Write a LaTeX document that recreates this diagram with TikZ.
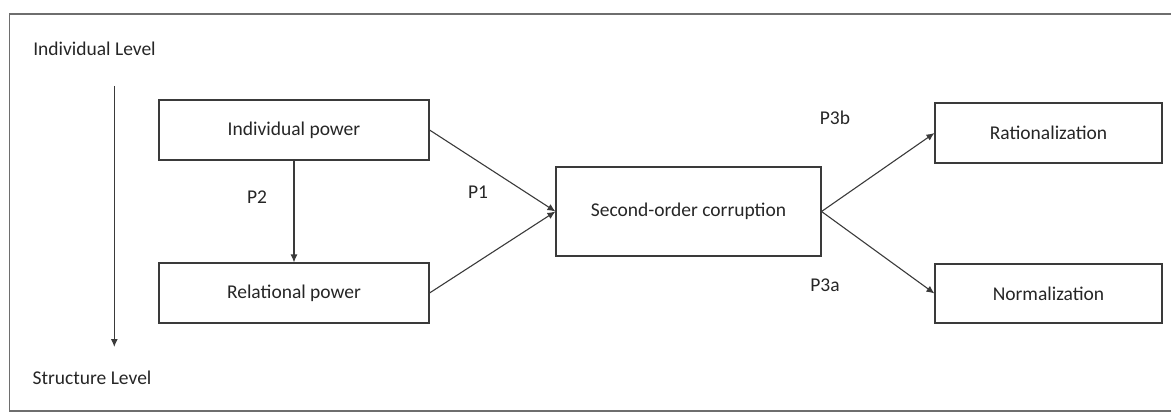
\documentclass[tikz,border=0pt]{standalone}
\usepackage{fontspec}
\setmainfont{Carlito}
\usetikzlibrary{arrows.meta}
\definecolor{framegray}{HTML}{6E6E6E}
\definecolor{linegray}{HTML}{3A3A3A}
\tikzset{
  box/.style={draw=linegray, line width=1.1pt, rectangle, inner sep=0pt, font=\fontsize{19.5}{22}\selectfont, text=black!85},
  lbl/.style={inner sep=0pt, font=\fontsize{19.5}{22}\selectfont, text=black!85},
  conn/.style={draw=linegray, line width=1.1pt, -{Latex[length=8pt,width=7pt]}}
}
\begin{document}
\begin{tikzpicture}[x=1pt,y=-1pt]
\useasboundingbox (0,0) rectangle (1171,412);
\draw[framegray, line width=1.2pt] (1171,14) -- (9.5,14) -- (9.5,411) -- (1171,411);

\node[lbl] (il) at (94.5,49) {Individual Level};
\node[lbl] (sl) at (92,378) {Structure Level};
\coordinate (vtop) at (114.3,86);
\coordinate (vbot) at (114.3,347);
\draw[conn] (vtop) -- (vbot);

\node[box, minimum width=270pt, minimum height=60pt] (ip) at (294,130) {Individual power};
\node[box, minimum width=270pt, minimum height=60pt] (rp) at (294,293) {Relational power};
\node[box, minimum width=265pt, minimum height=89pt] (soc) at (688.5,211.5) {Second-order corruption};
\node[box, minimum width=227pt, minimum height=60pt] (rat) at (1048.5,133) {Rationalization};
\node[box, minimum width=227pt, minimum height=59pt] (nor) at (1048.5,293.5) {Normalization};

\draw[conn] (ip.south) -- (rp.north);
\draw[conn] (ip.east) -- (soc.west);
\draw[conn] (rp.east) -- (soc.west);
\draw[conn] (soc.east) -- (rat.west);
\draw[conn] (soc.east) -- (nor.west);

\node[lbl] (p2) at (257,197) {P2};
\node[lbl] (p1) at (478,192) {P1};
\node[lbl] (p3b) at (835,118) {P3b};
\node[lbl] (p3a) at (825,285) {P3a};
\end{tikzpicture}
\end{document}
